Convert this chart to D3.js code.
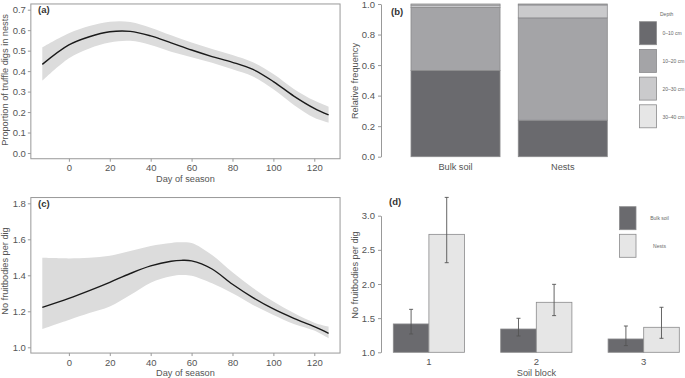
<!DOCTYPE html>
<html>
<head>
<meta charset="utf-8">
<script src="https://cdn.jsdelivr.net/npm/d3@7"></script>
<style>
  body { margin: 0; background: #fff; }
  svg { font-family: "Liberation Sans", Arial, sans-serif; }
  .axis text { fill: #555; font-size: 9.5px; }
  .axis line, .axis path { stroke: #999; }
</style>
</head>
<body>
<svg id="fig" width="685" height="378"></svg>
<script>
// (a) proportion of truffle digs in nests
var daysA = [-13, 0, 10, 20, 30, 40, 50, 60, 70, 80, 90, 100, 110, 120, 127];
var propFit = [0.433, 0.528, 0.568, 0.592, 0.594, 0.572, 0.538, 0.503, 0.471, 0.443, 0.408, 0.349, 0.278, 0.218, 0.186];
var propLow = [0.353, 0.463, 0.511, 0.54, 0.548, 0.528, 0.495, 0.468, 0.441, 0.409, 0.374, 0.311, 0.235, 0.172, 0.148];
var propHigh = [0.516, 0.585, 0.62, 0.641, 0.64, 0.612, 0.575, 0.54, 0.508, 0.479, 0.443, 0.386, 0.313, 0.256, 0.226];
var ticksA = [0, 0.1, 0.2, 0.3, 0.4, 0.5, 0.6, 0.7];

// (b) depth distribution
var sources = ["Bulk soil", "Nests"];
var depths = ["0\u201310 cm", "10\u201320 cm", "20\u201330 cm", "30\u201340 cm"];
var depthBulk = [0.565, 0.413, 0.015, 0.007];
var depthNests = [0.239, 0.67, 0.085, 0.006];
var ticksB = [0, 0.2, 0.4, 0.6, 0.8, 1.0];

// (c) fruitbodies per dig over the season
var daysC = [-13, 0, 10, 20, 30, 40, 50, 55, 60, 70, 80, 90, 100, 110, 120, 127];
var fruitFit = [1.222, 1.272, 1.315, 1.361, 1.41, 1.452, 1.478, 1.483, 1.48, 1.435, 1.35, 1.276, 1.213, 1.161, 1.115, 1.078];
var fruitLow = [1.102, 1.152, 1.19, 1.226, 1.29, 1.359, 1.395, 1.402, 1.398, 1.356, 1.3, 1.235, 1.18, 1.13, 1.093, 1.05];
var fruitHigh = [1.497, 1.494, 1.497, 1.509, 1.535, 1.563, 1.58, 1.583, 1.58, 1.513, 1.417, 1.33, 1.254, 1.19, 1.137, 1.115];
var ticksC = [1.0, 1.2, 1.4, 1.6, 1.8];
var ticksDay = [0, 20, 40, 60, 80, 100, 120];

// (d) fruitbodies per dig by soil block
var blocks = ["1", "2", "3"];
var bulkMean = [1.415, 1.341, 1.195];
var bulkLow = [1.268, 1.239, 1.098];
var bulkHigh = [1.629, 1.498, 1.385];
var nestMean = [2.727, 1.732, 1.366];
var nestLow = [2.312, 1.537, 1.205];
var nestHigh = [3.268, 1.995, 1.659];
var ticksD = [1.0, 1.5, 2.0, 2.5, 3.0];

var greys = ["#6a6a6e", "#a4a4a7", "#cacacc", "#e6e6e6"];
var svg = d3.select("#fig");

function fmt1(d) { return d3.format(".1f")(d); }

// ---- curve panels (a) and (c)
function curvePanel(days, fit, low, high, yDomain, yRange, yTicks, label, ylab, ylabY) {
  var x = d3.scaleLinear().domain([-13, 127]).range([42.3, 328.6]);
  var y = d3.scaleLinear().domain(yDomain).range(yRange);
  var pad = (yDomain[1] - yDomain[0]) * 0.04;
  var g = svg.append("g");

  var pts = days.map(function (d, i) { return { d: d, f: fit[i], lo: low[i], hi: high[i] }; });

  g.append("path")
    .datum(pts)
    .attr("fill", "#dcdcdc")
    .attr("d", d3.area()
      .x(function (p) { return x(p.d); })
      .y0(function (p) { return y(p.lo); })
      .y1(function (p) { return y(p.hi); })
      .curve(d3.curveCatmullRom));

  g.append("path")
    .datum(pts)
    .attr("fill", "none")
    .attr("stroke", "#1a1a1a")
    .attr("stroke-width", 1.4)
    .attr("d", d3.line()
      .x(function (p) { return x(p.d); })
      .y(function (p) { return y(p.f); })
      .curve(d3.curveCatmullRom));

  var x0 = x(-18.6), x1 = x(132.6);
  var yb = y(yDomain[0] - pad), yt = y(yDomain[1] + pad);
  g.append("rect")
    .attr("x", x0).attr("y", yt)
    .attr("width", x1 - x0).attr("height", yb - yt)
    .attr("fill", "none").attr("stroke", "#999");

  var ya = g.append("g").attr("class", "axis")
    .attr("transform", "translate(" + x0 + ",0)")
    .call(d3.axisLeft(y).tickValues(yTicks).tickFormat(fmt1).tickSize(3).tickPadding(2));
  ya.select(".domain").remove();

  var xa = g.append("g").attr("class", "axis")
    .attr("transform", "translate(0," + yb + ")")
    .call(d3.axisBottom(x).tickValues(ticksDay).tickSize(3).tickPadding(3));
  xa.select(".domain").remove();

  g.append("text")
    .attr("x", 38).attr("y", yt + 9)
    .attr("font-size", 9.5).attr("font-weight", "bold").attr("fill", "#333")
    .text(label);

  g.append("text")
    .attr("x", (x0 + x1) / 2).attr("y", yb + 23)
    .attr("text-anchor", "middle").attr("font-size", 9.2).attr("fill", "#555")
    .text("Day of season");

  g.append("text")
    .attr("transform", "translate(7.5," + ylabY + ") rotate(-90)")
    .attr("text-anchor", "middle")
    .attr("font-size", 9.2).attr("fill", "#555")
    .text(ylab);
}

curvePanel(daysA, propFit, propLow, propHigh, [0, 0.7], [153, 9.7], ticksA,
  "(a)", "Proportion of truffle digs in nests", 80);
curvePanel(daysC, fruitFit, fruitLow, fruitHigh, [1.0, 1.8], [347.3, 203.3], ticksC,
  "(c)", "No fruitbodies per dig", 271);

// ---- (b) stacked bars
(function () {
  var g = svg.append("g");
  var x = d3.scaleBand().domain(sources).range([411, 607.3]).paddingInner(0.17);
  var y = d3.scaleLinear().domain([0, 1]).range([156.7, 4]);
  var z = d3.scaleOrdinal().domain(depths).range(greys);

  var rows = sources.map(function (s, i) {
    var vals = i === 0 ? depthBulk : depthNests;
    var r = { source: s };
    depths.forEach(function (k, j) { r[k] = vals[j]; });
    return r;
  });

  g.append("g")
    .selectAll("g")
    .data(d3.stack().keys(depths)(rows))
    .enter().append("g")
    .attr("fill", function (d) { return z(d.key); })
    .selectAll("rect")
    .data(function (d) { return d; })
    .enter().append("rect")
    .attr("x", function (d) { return x(d.data.source); })
    .attr("y", function (d) { return y(d[1]); })
    .attr("height", function (d) { return y(d[0]) - y(d[1]); })
    .attr("width", x.bandwidth())
    .attr("stroke", "#8a8a8c").attr("stroke-width", 0.8);

  var ya = g.append("g").attr("class", "axis")
    .attr("transform", "translate(381,0)")
    .call(d3.axisLeft(y).tickValues(ticksB).tickFormat(fmt1).tickSize(3).tickSizeOuter(0).tickPadding(3));
  ya.selectAll("line, path").attr("stroke", "#bbb");

  g.selectAll(".src")
    .data(sources)
    .enter().append("text")
    .attr("x", function (d) { return x(d) + x.bandwidth() / 2; })
    .attr("y", 170)
    .attr("text-anchor", "middle").attr("font-size", 9.2).attr("fill", "#555")
    .text(function (d) { return d; });

  g.append("text").attr("x", 391).attr("y", 15)
    .attr("font-size", 9.5).attr("font-weight", "bold").attr("fill", "#333").text("(b)");

  g.append("text")
    .attr("transform", "translate(358,81) rotate(-90)")
    .attr("text-anchor", "middle")
    .attr("font-size", 9.2).attr("fill", "#555")
    .text("Relative frequency");

  var legend = g.append("g").attr("font-size", 5).attr("fill", "#666");
  legend.append("text").attr("x", 660).attr("y", 15.5).text("Depth");
  var item = legend.selectAll(".it")
    .data(depths)
    .enter().append("g")
    .attr("transform", function (d, i) { return "translate(639.5," + (21.7 + i * 27.7) + ")"; });
  item.append("rect")
    .attr("width", 17).attr("height", 23)
    .attr("fill", z).attr("stroke", "#8a8a8c").attr("stroke-width", 0.8);
  item.append("text")
    .attr("x", 23).attr("y", 12).attr("dy", "0.35em")
    .text(function (d) { return d; });
})();

// ---- (d) grouped bars with error bars
(function () {
  var g = svg.append("g");
  var x0 = d3.scaleBand().domain(blocks).range([393.3, 679.3]).paddingInner(0.337);
  var x1 = d3.scaleBand().domain(sources).range([0, x0.bandwidth()]);
  var y = d3.scaleLinear().domain([1, 3]).range([352.3, 215.7]);
  var fill = d3.scaleOrdinal().domain(sources).range([greys[0], greys[3]]);

  var rows = [];
  blocks.forEach(function (b, i) {
    rows.push({ block: b, src: sources[0], m: bulkMean[i], lo: bulkLow[i], hi: bulkHigh[i] });
    rows.push({ block: b, src: sources[1], m: nestMean[i], lo: nestLow[i], hi: nestHigh[i] });
  });

  g.selectAll(".bar")
    .data(rows)
    .enter().append("rect")
    .attr("x", function (d) { return x0(d.block) + x1(d.src); })
    .attr("y", function (d) { return y(d.m); })
    .attr("width", x1.bandwidth())
    .attr("height", function (d) { return y(1) - y(d.m); })
    .attr("fill", function (d) { return fill(d.src); })
    .attr("stroke", "#8a8a8c").attr("stroke-width", 0.8);

  var eb = g.selectAll(".err")
    .data(rows)
    .enter().append("g")
    .attr("stroke", "#555").attr("stroke-width", 0.9)
    .attr("transform", function (d) {
      return "translate(" + (x0(d.block) + x1(d.src) + x1.bandwidth() / 2) + ",0)";
    });
  eb.append("line")
    .attr("y1", function (d) { return y(d.lo); })
    .attr("y2", function (d) { return y(d.hi); });
  eb.append("line").attr("x1", -2).attr("x2", 2)
    .attr("y1", function (d) { return y(d.lo); })
    .attr("y2", function (d) { return y(d.lo); });
  eb.append("line").attr("x1", -2).attr("x2", 2)
    .attr("y1", function (d) { return y(d.hi); })
    .attr("y2", function (d) { return y(d.hi); });

  var ya = g.append("g").attr("class", "axis")
    .attr("transform", "translate(381,0)")
    .call(d3.axisLeft(y).tickValues(ticksD).tickFormat(fmt1).tickSize(3).tickSizeOuter(0).tickPadding(3));
  ya.selectAll("line, path").attr("stroke", "#bbb");

  g.selectAll(".blk")
    .data(blocks)
    .enter().append("text")
    .attr("x", function (d) { return x0(d) + x0.bandwidth() / 2; })
    .attr("y", 365)
    .attr("text-anchor", "middle").attr("font-size", 9.5).attr("fill", "#555")
    .text(function (d) { return d; });

  g.append("text").attr("x", 536.5).attr("y", 376)
    .attr("text-anchor", "middle").attr("font-size", 9.2).attr("fill", "#555")
    .text("Soil block");

  g.append("text").attr("x", 389).attr("y", 205)
    .attr("font-size", 9.5).attr("font-weight", "bold").attr("fill", "#333").text("(d)");

  g.append("text")
    .attr("transform", "translate(358,275) rotate(-90)")
    .attr("text-anchor", "middle")
    .attr("font-size", 9.2).attr("fill", "#555")
    .text("No fruitbodies per dig");

  var legend = g.append("g").attr("font-size", 5).attr("fill", "#666");
  var item = legend.selectAll(".it")
    .data(sources)
    .enter().append("g")
    .attr("transform", function (d, i) { return "translate(619.5," + (206.7 + i * 27.6) + ")"; });
  item.append("rect")
    .attr("width", 16.5).attr("height", 23)
    .attr("fill", fill).attr("stroke", "#8a8a8c").attr("stroke-width", 0.8);
  item.append("text")
    .attr("x", 40).attr("y", 11.5).attr("dy", "0.35em").attr("text-anchor", "middle")
    .text(function (d) { return d; });
})();
</script>
</body>
</html>
